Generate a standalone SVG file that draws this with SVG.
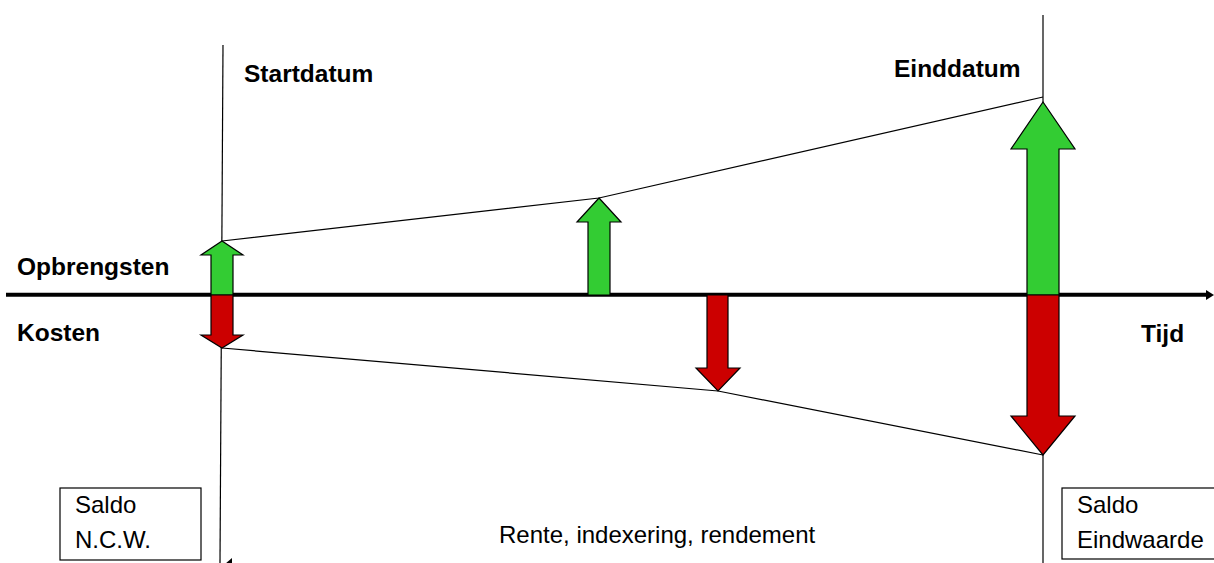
<svg xmlns="http://www.w3.org/2000/svg" width="1214" height="563" viewBox="0 0 1214 563">
<style>
.thin{stroke:#000;stroke-width:1.2;fill:none}
.up{fill:#33CC33;stroke:#000;stroke-width:1.2;stroke-linejoin:miter}
.down{fill:#CC0000;stroke:#000;stroke-width:1.2;stroke-linejoin:miter}
.b{font-family:"Liberation Sans",Arial,sans-serif;font-weight:bold;font-size:24.5px;fill:#000}
.r{font-family:"Liberation Sans",Arial,sans-serif;font-size:24px;fill:#000}
.box{fill:#fff;stroke:#000;stroke-width:1.2}
</style>
<rect width="1214" height="563" fill="#fff"/>
<g id="connectors">
<line class="thin" x1="223" y1="45" x2="220" y2="563"/>
<line class="thin" x1="1043" y1="15" x2="1043" y2="563"/>
<polyline class="thin" points="222,241 599,198 1043,97"/>
<polyline class="thin" points="222,348 718,391 1043,455"/>
<line x1="6" y1="294.7" x2="1208" y2="294.7" stroke="#000" stroke-width="4"/>
<polygon points="1206,290 1214,295 1206,300" fill="#000"/>
<polygon points="225,564 232,558 232,564" fill="#000"/>
</g>
<g id="arrow-start-up"><polygon class="up" points="211,295 211,255 201,255 222,241 243,255 233,255 233,295"/></g>
<g id="arrow-start-down"><polygon class="down" points="211,295 211,335 201,335 222,348 243,335 233,335 233,295"/></g>
<g id="arrow-mid-up"><polygon class="up" points="588,295 588,222 577,222 599,198 621,222 610,222 610,295"/></g>
<g id="arrow-mid-down"><polygon class="down" points="707,295 707,368 696,368 718,391 740,368 728,368 728,295"/></g>
<g id="arrow-end-up"><polygon class="up" points="1027,295 1027,149 1011,149 1043,102 1075,149 1059,149 1059,295"/></g>
<g id="arrow-end-down"><polygon class="down" points="1027,295 1027,416 1011,416 1043,455 1075,416 1059,416 1059,295"/></g>
<g id="labels">
<text class="b" x="244" y="82">Startdatum</text>
<text class="b" x="894" y="77">Einddatum</text>
<text class="b" x="17" y="275">Opbrengsten</text>
<text class="b" x="17" y="341">Kosten</text>
<text class="b" x="1141" y="342">Tijd</text>
<text class="r" x="499" y="543">Rente, indexering, rendement</text>
</g>
<g id="saldo-ncw">
<rect class="box" x="60" y="488" width="141" height="72"/>
<text class="r" x="75" y="513">Saldo</text>
<text class="r" x="75" y="548">N.C.W.</text>
</g>
<g id="saldo-eindwaarde">
<rect class="box" x="1062" y="488" width="170" height="71"/>
<text class="r" x="1077" y="513">Saldo</text>
<text class="r" x="1077" y="548">Eindwaarde</text>
</g>
</svg>
